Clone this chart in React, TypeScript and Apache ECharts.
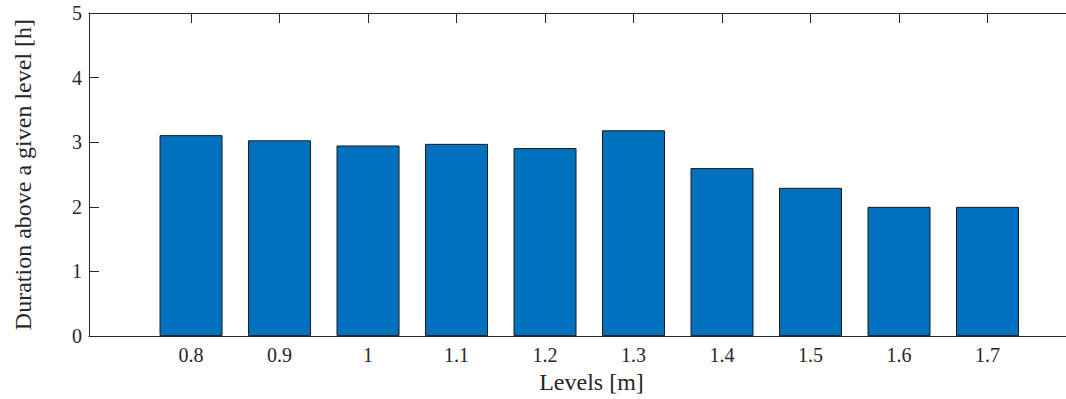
import React, { useEffect, useRef } from "react";
import * as echarts from "echarts";

const levels = [0.8, 0.9, 1.0, 1.1, 1.2, 1.3, 1.4, 1.5, 1.6, 1.7];
const durations = [3.11, 3.03, 2.95, 2.975, 2.91, 3.185, 2.6, 2.295, 2.0, 2.0];
const yTicks = [0, 1, 2, 3, 4, 5];

const FONT = "Liberation Serif";
const AXIS_COLOR = "#262626";

export default function App() {
  const ref = useRef<HTMLDivElement>(null);
  useEffect(() => {
    if (!ref.current) return;
    const chart = echarts.init(ref.current, null, { renderer: "svg" });
    const fmt = (v: number) => String(Number(v.toFixed(1)));
    chart.setOption({
      animation: false,
      backgroundColor: "#ffffff",
      grid: { left: 89, top: 13, right: 0, bottom: 60, containLabel: false },
      xAxis: [
        {
          type: "value",
          min: 0.6847,
          max: 1.8,
          position: "bottom",
          name: "Levels [m]",
          nameLocation: "middle",
          nameGap: 29,
          nameTextStyle: { fontFamily: FONT, fontSize: 24, color: AXIS_COLOR, padding: [0, 0, 0, 18] },
          axisLine: { show: true, onZero: false, lineStyle: { color: AXIS_COLOR, width: 1 } },
          axisTick: { show: true, inside: true, length: 10, customValues: levels, lineStyle: { color: AXIS_COLOR } },
          axisLabel: {
            show: true,
            customValues: levels,
            margin: 9,
            fontFamily: FONT,
            fontSize: 20,
            color: AXIS_COLOR,
            formatter: (v: number) => fmt(v),
          },
          splitLine: { show: false },
        },
        {
          type: "value",
          min: 0.6847,
          max: 1.8,
          position: "top",
          axisLine: { show: true, onZero: false, lineStyle: { color: AXIS_COLOR, width: 1 } },
          axisTick: { show: true, inside: true, length: 10, customValues: levels, lineStyle: { color: AXIS_COLOR } },
          axisLabel: { show: false },
          splitLine: { show: false },
        },
      ],
      yAxis: [
        {
          type: "value",
          min: 0,
          max: 5,
          interval: 1,
          position: "left",
          name: "Duration above a given level [h]",
          nameLocation: "middle",
          nameGap: 54,
          nameTextStyle: { fontFamily: FONT, fontSize: 24, color: AXIS_COLOR },
          axisLine: { show: true, onZero: false, lineStyle: { color: AXIS_COLOR, width: 1 } },
          axisTick: { show: true, inside: true, length: 10, lineStyle: { color: AXIS_COLOR } },
          axisLabel: {
            show: true,
            margin: 7,
            fontFamily: FONT,
            fontSize: 20,
            color: AXIS_COLOR,
            formatter: (v: number) => (yTicks.includes(v) ? String(v) : ""),
          },
          splitLine: { show: false },
        },
        {
          type: "value",
          min: 0,
          max: 5,
          interval: 1,
          position: "right",
          axisLine: { show: true, onZero: false, lineStyle: { color: AXIS_COLOR, width: 1 } },
          axisTick: { show: true, inside: true, length: 10, lineStyle: { color: AXIS_COLOR } },
          axisLabel: { show: false },
          splitLine: { show: false },
        },
      ],
      series: [
        {
          type: "bar",
          xAxisIndex: 0,
          yAxisIndex: 0,
          barWidth: 63,
          data: levels.map((l, i) => [l, durations[i]]),
          itemStyle: { color: "#0072BD", borderColor: "#1a1a1a", borderWidth: 1 },
          z: 1,
        },
      ],
    });
    return () => chart.dispose();
  }, []);
  return (
    <div
      style={{
        position: "fixed",
        left: 0,
        top: 0,
        width: 1066,
        height: 399,
        overflow: "hidden",
        background: "#fff",
      }}
    >
      <div ref={ref} style={{ width: 1076, height: 399 }} />
    </div>
  );
}
